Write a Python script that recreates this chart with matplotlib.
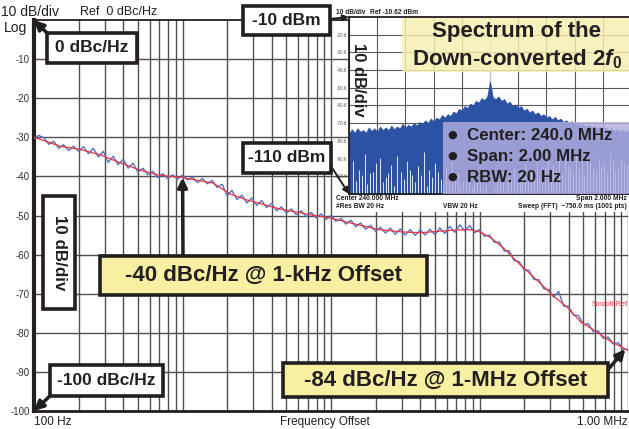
import numpy as np
import matplotlib
matplotlib.use('Agg')
import matplotlib.pyplot as plt
from matplotlib.patches import Rectangle, ConnectionPatch
from matplotlib.ticker import LogLocator, NullFormatter, FixedLocator

plt.rcParams['font.family'] = ['Liberation Sans', 'DejaVu Sans']
plt.rcParams['mathtext.fontset'] = 'custom'
plt.rcParams['mathtext.it'] = 'Liberation Sans:italic:bold'
plt.rcParams['mathtext.rm'] = 'Liberation Sans:bold'

# ---------------- data ----------------
red_freq = [100, 120, 150, 200, 280, 380, 520, 700, 1000, 1600, 2100, 2700, 4500, 7500,
            9800, 12800, 21000, 30000, 40000, 55000, 70000, 86000, 100000, 117000, 144000,
            187000, 243000, 313000, 390000, 480000, 600000, 750000, 1000000]
red_db = [-30.0, -31.0, -32.3, -33.0, -34.5, -36.5, -38.4, -39.7, -40.3, -41.7, -44.5, -46.0,
          -48.3, -49.9, -50.6, -51.7, -53.6, -54.2, -54.4, -54.0, -53.7, -53.6, -54.2, -55.5,
          -58.2, -62.5, -66.5, -70.5, -73.5, -77.2, -79.5, -82.0, -84.5]

blue_freq = [
    100, 108, 117, 126, 136, 147, 158, 171, 185, 200, 215, 233, 251, 271, 293, 316, 341, 369, 398, 430,
    464, 501, 541, 584, 631, 681, 736, 794, 858, 926,
    1000, 1080, 1170, 1260, 1360, 1470, 1580, 1710, 1850, 2000, 2150, 2330, 2510, 2710, 2930, 3160,
    3410, 3690, 3980, 4300, 4640, 5010, 5410, 5840, 6310, 6810, 7360, 7940, 8580, 9260,
    10000, 10800, 11700, 12600, 13600, 14700, 15800, 17100, 18500, 20000, 21500, 23300, 25100, 27100,
    29300, 31600, 34100, 36900, 39800, 43000, 46400, 50100, 54100, 58400, 63100, 68100, 73600, 79400,
    85800, 92600,
    100000, 108000, 117000, 126000, 136000, 147000, 158000, 171000, 185000, 200000, 215000, 233000,
    251000, 271000, 293000, 316000, 341000, 369000, 398000, 430000, 464000, 501000, 541000, 584000,
    631000, 681000, 736000, 794000, 858000, 926000, 1000000]
blue_db = [
    -30.3, -29.5, -30.2, -31.8, -31.0, -32.8, -31.9, -33.4, -32.3, -33.6, -32.4, -34.2, -32.8, -35.0,
    -33.6, -36.4, -34.9, -37.0, -35.6, -37.9, -36.6, -38.9, -37.9, -39.6, -38.7, -40.3, -39.3, -40.6,
    -39.6, -40.7,
    -39.7, -40.9, -40.2, -41.6, -40.5, -41.9, -41.0, -42.8, -42.0, -44.9, -43.6, -45.9, -44.8, -46.8,
    -45.5, -47.4, -46.2, -48.0, -46.9, -48.8, -47.8, -49.4, -48.3, -49.8, -48.8, -50.3, -49.2, -50.6,
    -49.6, -51.0,
    -50.0, -51.5, -50.7, -52.2, -51.2, -52.9, -51.9, -53.5, -52.5, -54.1, -53.0, -54.5, -53.2, -54.8,
    -53.4, -55.0, -53.6, -55.1, -53.7, -55.0, -53.5, -54.9, -53.2, -54.6, -52.8, -54.3, -52.4, -53.9,
    -52.6, -54.4,
    -53.6, -55.3, -55.0, -56.9, -56.8, -59.1, -59.0, -61.5, -61.8, -64.0, -64.0, -66.4, -66.4, -68.7,
    -69.0, -70.9, -69.4, -73.2, -73.2, -75.5, -75.6, -77.9, -77.7, -79.7, -79.5, -81.4, -81.1, -82.9,
    -82.5, -84.3, -84.2]

y_ticks = [-10, -20, -30, -40, -50, -60, -70, -80, -90, -100]
y_ticklabels = ['-10', '-20', '-30', '-40', '-50', '-60', '-70', '-80', '-90', '-100']

# inset spectrum (dBm), 239..241 MHz
spec_top_dbm = [
    -76.5, -74.0, -76.0, -73.5, -75.5, -74.5, -76.0, -73.0, -75.0, -73.5,
    -75.5, -72.5, -74.5, -73.0, -74.5, -72.0, -74.0, -72.5, -73.5, -71.0,
    -73.0, -71.5, -72.5, -70.5, -72.0, -70.0, -71.0, -69.0, -70.5, -68.0,
    -69.5, -67.5, -68.5, -66.0, -67.5, -65.5, -66.5, -64.0, -65.0, -62.5,
    -63.5, -61.0, -62.0, -59.5, -60.5, -58.0, -59.0, -56.5, -57.5, -55.5,
    -47.0,
    -56.0, -57.0, -55.5, -58.0, -57.0, -59.5, -58.5, -61.0, -60.0, -62.0,
    -61.0, -63.5, -62.5, -64.5, -63.5, -65.5, -64.5, -66.5, -65.5, -67.5,
    -66.5, -68.5, -67.0, -69.0, -68.0, -70.0, -69.0, -70.5, -69.5, -71.5,
    -70.5, -72.0, -71.0, -72.5, -71.5, -73.0, -72.0, -73.5, -72.5, -74.0,
    -73.0, -74.5, -73.5, -75.0, -74.0, -75.5, -74.5, -75.5, -74.5, -76.0]
dip_freq_mhz = [239.03, 239.07, 239.11, 239.15, 239.19, 239.22, 239.26, 239.30, 239.34, 239.37,
                239.41, 239.45, 239.49, 239.53, 239.57, 239.61, 239.65, 239.69, 239.73, 239.77,
                239.81, 239.85, 239.89, 239.93, 239.97,
                240.05, 240.09, 240.13, 240.17, 240.21, 240.25, 240.29, 240.33, 240.37, 240.41,
                240.45, 240.49, 240.53, 240.57, 240.61, 240.65, 240.69, 240.73, 240.77, 240.81,
                240.85, 240.89, 240.93, 240.97,
                239.05, 239.09, 239.13, 239.17, 239.24, 239.28, 239.32, 239.39, 239.43, 239.47,
                239.51, 239.55, 239.59, 239.63, 239.67, 239.71, 239.75, 239.79, 239.83, 239.87,
                239.91, 239.95,
                240.03, 240.07, 240.11, 240.15, 240.19, 240.23, 240.27, 240.31, 240.35, 240.39,
                240.43, 240.47, 240.51, 240.55, 240.59, 240.63, 240.67, 240.71, 240.75, 240.79,
                240.83, 240.87, 240.91, 240.95, 240.99]
dip_dbm = [-92, -97, -88, -99, -93, -90, -101, -94, -89, -98, -92, -100, -95, -87, -97, -93, -102,
           -96, -91, -99, -103, -97, -104, -100, -105,
           -103, -98, -101, -96, -99, -93, -97, -90, -95, -88, -94, -91, -86, -95, -89, -92, -87,
           -96, -90, -93, -88, -97, -91, -94,
           -103, -100, -105, -98, -104, -99, -106, -102, -97, -104, -100, -106, -101, -98, -105,
           -103, -100, -106, -102, -107, -104, -106,
           -106, -104, -106, -102, -105, -100, -103, -98, -101, -96, -100, -97, -99, -94, -98,
           -96, -100, -93, -97, -95, -99, -92, -96, -93, -97]
inset_ref = -10.62
inset_yticks = [-20.62, -30.62, -40.62, -50.62, -60.62, -70.62, -80.62, -90.62, -100.62]
inset_yticklabels = ['-20.6', '-30.6', '-40.6', '-50.6', '-60.6', '-70.6', '-80.6', '-90.6', '-100.6']

# ---------------- figure ----------------
W, H = 629, 429
fig = plt.figure(figsize=(W / 100, H / 100), dpi=100)
fig.patch.set_facecolor('white')


def fx(px):
    return px / W


def fy(py):
    return 1 - py / H


INK = '#231f20'

ax = fig.add_axes([fx(34), fy(411), (628 - 34) / W, (411 - 20) / H])
ax.set_xscale('log')
ax.set_xlim(100, 1e6)
ax.set_ylim(-100, 0)
ax.xaxis.set_major_locator(FixedLocator([1e2, 1e3, 1e4, 1e5, 1e6]))
ax.xaxis.set_minor_locator(LogLocator(base=10, subs=np.arange(2, 10), numticks=60))
ax.xaxis.set_major_formatter(NullFormatter())
ax.xaxis.set_minor_formatter(NullFormatter())
ax.set_yticks(y_ticks)
ax.set_yticklabels(y_ticklabels, fontsize=7, color='#333333')
ax.tick_params(axis='both', which='both', length=0, pad=3)
ax.grid(True, which='both', color='#505050', lw=1.0)
ax.set_axisbelow(True)
ax.spines['left'].set_linewidth(3.0)
ax.spines['left'].set_color(INK)
ax.spines['bottom'].set_linewidth(2.0)
ax.spines['bottom'].set_color(INK)
ax.spines['top'].set_linewidth(1.3)
ax.spines['top'].set_color(INK)
ax.spines['right'].set_visible(False)

ax.plot(blue_freq, blue_db, color='#4f74c4', lw=1.0, zorder=3)
ax.plot(red_freq, red_db, color='#e8343f', lw=0.9, zorder=4)

# texts around main plot
fig.text(fx(1), fy(12), '10 dB/div', fontsize=10, ha='left', va='center', color=INK)
fig.text(fx(4), fy(28), 'Log', fontsize=10, ha='left', va='center', color=INK)
fig.text(fx(80), fy(12), 'Ref  0 dBc/Hz', fontsize=9, ha='left', va='center', color=INK)
fig.text(fx(34), fy(422), '100 Hz', fontsize=8.5, ha='left', va='center', color=INK)
fig.text(fx(325), fy(422), 'Frequency Offset', fontsize=8.5, ha='center', va='center', color=INK)
fig.text(fx(628), fy(422), '1.00 MHz', fontsize=8.5, ha='right', va='center', color=INK)
fig.text(fx(628), fy(305), 'SmoothRef', fontsize=5.2, ha='right', va='center', color='#e8343f')

# white band under inset for its labels
fig.add_artist(Rectangle((fx(335), fy(212)), (640 - 335) / W, (212 - 194) / H,
                         transform=fig.transFigure, fc='white', ec='none', zorder=0.5))

# ---------------- inset ----------------
axin = fig.add_axes([fx(349), fy(194), (631 - 349) / W, (194 - 17) / H])
axin.set_zorder(1)
axin.set_xlim(239, 241)
axin.set_ylim(inset_ref - 100, inset_ref)
axin.set_xticks(np.arange(239, 241.001, 0.2))
axin.set_xticklabels([])
axin.set_yticks(inset_yticks)
axin.set_yticklabels(inset_yticklabels)
axin.tick_params(axis='both', length=0, labelsize=3.3, pad=1, labelcolor='#555555')
axin.grid(True, color='#5a5a5a', lw=0.8)
axin.set_axisbelow(True)
for s in ['top', 'left', 'bottom']:
    axin.spines[s].set_linewidth(1.3)
    axin.spines[s].set_color(INK)
axin.spines['right'].set_visible(False)
axin.axvline(240, color='#c8c8c8', lw=0.9, zorder=1)

spec_freq = np.linspace(239, 241, len(spec_top_dbm))
axin.fill_between(spec_freq, inset_ref - 100, spec_top_dbm, color='#2b52a3', lw=0.5,
                  edgecolor='#2b52a3', zorder=2)
axin.vlines(dip_freq_mhz, inset_ref - 100, dip_dbm, colors='white', lw=0.6, zorder=2.1)

# inset title box and info box
axin.add_patch(Rectangle(((402 - 349) / 282, (194 - 72) / 177), 1.0, (72 - 18) / 177,
                         transform=axin.transAxes, fc='#f6efb0', alpha=0.82, ec='none',
                         zorder=3, clip_on=False))
axin.add_patch(Rectangle(((443 - 349) / 282, 0.0), 1.0, (194 - 122) / 177,
                         transform=axin.transAxes, fc='#b3afde', alpha=0.82, ec='none',
                         zorder=3, clip_on=False))

fig.text(fx(517), fy(32), 'Spectrum of the', fontsize=16, fontweight='bold', ha='center',
         va='center', color=INK, zorder=6)
fig.text(fx(517), fy(59), 'Down-converted 2$\\mathit{f}_\\mathrm{0}$', fontsize=16,
         fontweight='bold', ha='center', va='center', color=INK, zorder=6)
fig.text(fx(358), fy(80), '10 dB/div', fontsize=12, fontweight='bold', rotation=270,
         ha='center', va='center', color=INK, zorder=6)

for yy, txt in [(135, 'Center: 240.0 MHz'), (156, 'Span: 2.00 MHz'), (177, 'RBW: 20 Hz')]:
    fig.text(fx(452), fy(yy), '\u25cf', fontsize=8, family='DejaVu Sans', ha='center',
             va='center', color=INK, zorder=6)
    fig.text(fx(467), fy(yy), txt, fontsize=12.2, fontweight='bold', ha='left',
             va='center', color=INK, zorder=6)

small = dict(fontsize=4.8, fontweight='bold', va='center', color=INK, zorder=6)
fig.text(fx(336), fy(12), '10 dB/div', ha='left', **small)
fig.text(fx(370), fy(12), 'Ref -10.62 dBm', ha='left', **small)
fig.text(fx(336), fy(199), 'Center 240.000 MHz', ha='left', **small)
fig.text(fx(336), fy(207), '#Res BW 20 Hz', ha='left', **small)
fig.text(fx(443), fy(207), 'VBW 20 Hz', ha='left', **small)
fig.text(fx(627), fy(199), 'Span 2.000 MHz', ha='right', **small)
fig.text(fx(627), fy(207), 'Sweep (FFT)  ~750.0 ms (1001 pts)', ha='right', **small)


# ---------------- annotation boxes ----------------
def box(x0, y0, x1, y1, text, fc, fs, rot=0, lw=2.6):
    fig.add_artist(Rectangle((fx(x0), fy(y1)), (x1 - x0) / W, (y1 - y0) / H,
                             transform=fig.transFigure, fc=fc, ec=INK, lw=lw, zorder=5))
    fig.text(fx((x0 + x1) / 2), fy((y0 + y1) / 2), text, ha='center', va='center',
             fontsize=fs, fontweight='bold', rotation=rot, zorder=6, color=INK)


def arrow(px, py, xy, axes, lw=2.5, ms=14):
    con = ConnectionPatch(xyA=(fx(px), fy(py)), coordsA='figure fraction',
                          xyB=xy, coordsB='data', axesB=axes,
                          arrowstyle='-|>', lw=lw, color=INK, mutation_scale=ms,
                          shrinkA=0, shrinkB=0, zorder=4)
    fig.add_artist(con)


YEL = '#f7f0a2'
arrow(49, 35, (100, 0), ax)
arrow(52, 394, (100, -100), ax)
arrow(183, 258, (1000, -40.3), ax)
arrow(606, 372, (9.6e5, -84.2), ax)
arrow(329, 19, (239.0, inset_ref), axin, lw=1.4, ms=9)
arrow(329, 163, (239.0, inset_ref - 100), axin, lw=1.4, ms=9)

box(47, 33, 137, 63, '0 dBc/Hz', 'white', 12.5)
box(50, 365, 163, 396, '-100 dBc/Hz', 'white', 12.5)
box(43, 196, 75, 309, '10 dB/div', 'white', 12.2, rot=270)
box(100, 256, 427, 295, '-40 dBc/Hz @ 1-kHz Offset', YEL, 16)
box(283, 363, 608, 397, '-84 dBc/Hz @ 1-MHz Offset', YEL, 16)
box(243, 6, 330, 35, '-10 dBm', 'white', 12.5)
box(243, 143, 331, 173, '-110 dBm', 'white', 12.5)

fig.savefig('out.png', dpi=100)
